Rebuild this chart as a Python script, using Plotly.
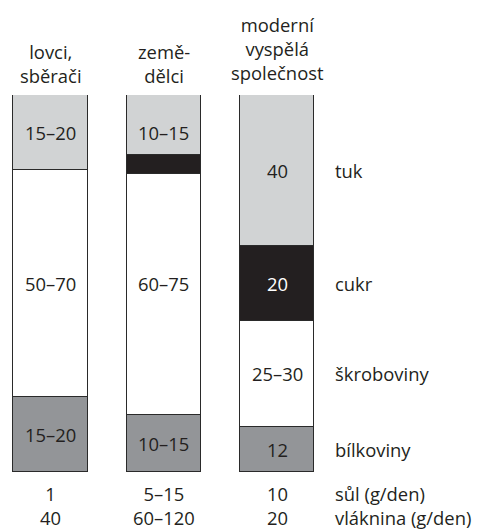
import plotly.graph_objects as go

# ---- data ----
groups = ["lovci, sběrači", "zemědělci", "moderní vyspělá společnost"]
title_lines = [["lovci,", "sběrači"], ["země-", "dělci"], ["moderní", "vyspělá", "společnost"]]
components = ["bílkoviny", "škroboviny", "cukr", "tuk"]  # bottom -> top
share_protein = [20, 15, 12]
share_starch = [60, 64, 28]
share_sugar = [0, 5, 20]
share_fat = [20, 16, 40]
label_protein = ["15–20", "10–15", "12"]
label_starch = ["50–70", "60–75", "25–30"]
label_sugar = ["", "", "20"]
label_fat = ["15–20", "10–15", "40"]
salt_values = ["1", "5–15", "10"]
fibre_values = ["40", "60–120", "20"]
row_names = ["sůl (g/den)", "vláknina (g/den)"]

colors = {"bílkoviny": "#939598", "škroboviny": "#ffffff", "cukr": "#231f20", "tuk": "#d1d3d4"}
FONT = "Open Sans"
TXT = "#231f20"
FS = 18.4

# page body has an 8px margin: work in figure coordinates (page px - 8)
OFF = 8
W, H = 480, 530 - OFF
TOP, BOT = 95 - OFF, 471.7 - OFF
PLOT_H = BOT - TOP
px_per_unit = 113.3
x0_px = 50.5 - OFF
bar_w = 74.4 / px_per_unit

series = {
    "bílkoviny": (share_protein, label_protein),
    "škroboviny": (share_starch, label_starch),
    "cukr": (share_sugar, label_sugar),
    "tuk": (share_fat, label_fat),
}

xs = list(range(len(groups)))
fig = go.Figure()
for comp in components:
    vals, _ = series[comp]
    fig.add_trace(go.Bar(
        x=xs, y=vals, width=bar_w, name=comp,
        marker=dict(color=colors[comp], line=dict(color="#2a2a2a", width=1.3)),
        showlegend=False, hoverinfo="skip",
    ))

annotations = []
base = [0] * len(groups)
mids = {}
for comp in components:
    vals, labs = series[comp]
    mids[comp] = [b + v / 2 for b, v in zip(base, vals)]
    base = [b + v for b, v in zip(base, vals)]

for comp in components:
    vals, labs = series[comp]
    for i, lab in enumerate(labs):
        if not lab:
            continue
        y = mids[comp][i]
        # middle column labels sit level with the first column's rows (fat, starch)
        if i == 1 and comp in ("tuk", "škroboviny"):
            y = mids[comp][0]
        color = "#ffffff" if comp == "cukr" else TXT
        annotations.append(dict(x=xs[i], y=y, xref="x", yref="y", text=lab, showarrow=False,
                                font=dict(family=FONT, size=FS, color=color),
                                xanchor="center", yanchor="middle"))

# right-hand component names, level with last column
LABEL_X = xs[-1] + 0.49
for comp in components:
    annotations.append(dict(x=LABEL_X, y=mids[comp][-1], xref="x", yref="y", text=comp,
                            showarrow=False, font=dict(family=FONT, size=FS, color=TXT),
                            xanchor="left", yanchor="middle"))


def paper_y(py):
    """page pixel y -> paper coordinate"""
    return (BOT - (py - OFF)) / PLOT_H


# bottom rows (two lines per column, block centred between the rows)
ROWS_CENTER = 505.5
for i in xs:
    annotations.append(dict(x=xs[i], y=paper_y(ROWS_CENTER), xref="x", yref="paper",
                            text=salt_values[i] + "<br>" + fibre_values[i],
                            showarrow=False, font=dict(family=FONT, size=FS, color=TXT),
                            xanchor="center", yanchor="middle", align="center"))
annotations.append(dict(x=LABEL_X, y=paper_y(ROWS_CENTER), xref="x", yref="paper",
                        text="<br>".join(row_names), showarrow=False,
                        font=dict(family=FONT, size=FS, color=TXT),
                        xanchor="left", yanchor="middle", align="left"))

# column titles (block centres in page px)
title_centers = [64, 64, 49]
for i, lines in enumerate(title_lines):
    annotations.append(dict(x=xs[i], y=paper_y(title_centers[i]), xref="x", yref="paper",
                            text="<br>".join(lines), showarrow=False,
                            font=dict(family=FONT, size=FS, color=TXT),
                            xanchor="center", yanchor="middle", align="center"))

fig.update_layout(
    width=W, height=H,
    margin=dict(l=0, r=0, t=TOP, b=H - BOT, pad=0),
    barmode="stack",
    paper_bgcolor="white", plot_bgcolor="white",
    xaxis=dict(range=[-x0_px / px_per_unit, (W - x0_px) / px_per_unit], visible=False, fixedrange=True),
    yaxis=dict(range=[0, 100], visible=False, fixedrange=True),
    annotations=annotations,
    bargap=0,
)

fig.write_html("out.html", config={"displayModeBar": False})
